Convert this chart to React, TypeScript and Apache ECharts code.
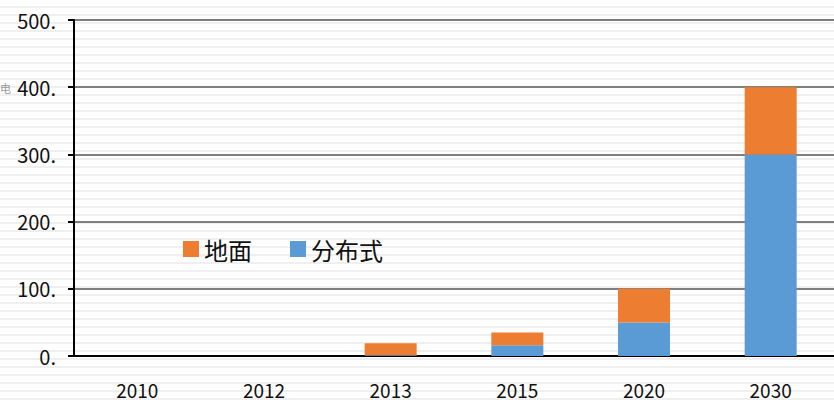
import React, { useEffect, useRef } from "react";
import * as echarts from "echarts";

const categories = ["2010", "2012", "2013", "2015", "2020", "2030"];
const distributed = [0, 0, 1, 16, 50, 300];
const ground = [0, 0, 18, 19, 50, 100];
const yTicks = { min: 0, max: 500, interval: 100 };

const FONT = "'Noto Sans CJK SC', 'Noto Sans', sans-serif";

export default function App() {
  const ref = useRef<HTMLDivElement>(null);
  useEffect(() => {
    const chart = echarts.init(ref.current!, null, { renderer: "svg" });
    chart.setOption({
      animation: false,
      backgroundColor: "transparent",
      textStyle: { fontFamily: FONT },
      grid: { left: 74, top: 20, bottom: 49, right: -9 },
      legend: {
        left: 178,
        top: 232,
        itemWidth: 16,
        itemHeight: 16,
        itemGap: 38,
        data: ["地面", "分布式"],
        textStyle: { fontSize: 24, color: "#111", fontFamily: FONT },
        icon: "rect",
      },
      graphic: [
        {
          type: "text",
          left: 0,
          top: 82,
          style: { text: "电", fontSize: 11, fill: "#999", fontFamily: FONT },
        },
      ],
      xAxis: {
        type: "category",
        data: categories,
        axisLine: { lineStyle: { color: "#000", width: 2 } },
        axisTick: { length: 6, lineStyle: { color: "#000", width: 2 } },
        axisLabel: { fontSize: 19, color: "#111", margin: 24, fontFamily: FONT },
      },
      yAxis: {
        type: "value",
        min: yTicks.min,
        max: yTicks.max,
        interval: yTicks.interval,
        axisLine: { show: true, lineStyle: { color: "#000", width: 2 } },
        axisTick: { show: true, length: 6, lineStyle: { color: "#000", width: 2 } },
        axisLabel: {
          fontSize: 20,
          color: "#111",
          margin: 18,
          fontFamily: FONT,
          formatter: (v: number) => `${v}.`,
        },
        splitLine: { lineStyle: { color: "#7f7f7f", width: 2 } },
      },
      series: [
        {
          name: "分布式",
          type: "bar",
          stack: "total",
          barWidth: 52,
          data: distributed,
          itemStyle: { color: "#5B9BD5" },
        },
        {
          name: "地面",
          type: "bar",
          stack: "total",
          barWidth: 52,
          data: ground,
          itemStyle: { color: "#ED7D31" },
        },
      ],
    });
    return () => chart.dispose();
  }, []);
  return (
    <div
      style={{
        position: "fixed",
        left: 0,
        top: 0,
        width: 834,
        height: 405,
        background:
          "repeating-linear-gradient(to bottom, #ffffff 0px, #ffffff 6px, #efefef 6px, #efefef 8px)",
      }}
    >
      <div ref={ref} style={{ width: 834, height: 405 }} />
    </div>
  );
}
